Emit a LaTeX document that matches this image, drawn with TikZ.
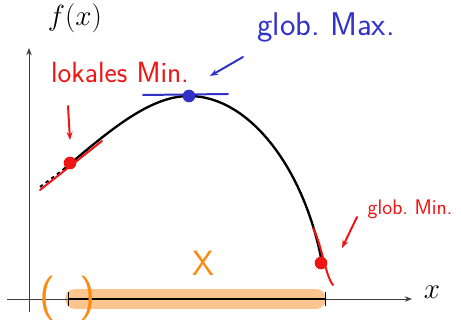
\documentclass[tikz,border=0pt]{standalone}
\usepackage{tikz}
\usetikzlibrary{arrows.meta,positioning}

\definecolor{penred}{RGB}{240,20,20}
\definecolor{penblue}{RGB}{50,50,200}
\definecolor{penorange}{RGB}{250,140,20}
\definecolor{bandorange}{RGB}{252,190,130}

\begin{document}
\begin{tikzpicture}[
    x=0.03cm, y=-0.03cm,
    axis/.style={draw=black!75, line width=0.7pt, -{Stealth[length=2.2mm]}},
    curve/.style={draw, line width=2pt, line cap=round},
    dot/.style={circle, fill=#1, inner sep=0pt, minimum size=3.8mm},
    hand/.style={font=\sffamily\fontsize{28}{30}\selectfont, text=#1},
    pen/.style={draw=#1, line width=1.7pt, line cap=round},
    penarrow/.style={draw=#1, line width=1.7pt, -{Stealth[length=2.4mm]}, line cap=round},
]
    \useasboundingbox (0,0) rectangle (461,320);

    % feasible set X
    \draw[bandorange, line width=6mm, line cap=round, opacity=0.9] (75,299) -- (316,299);

    % axes
    \coordinate (o) at (29,299);
    \coordinate (xend) at (412,299);
    \coordinate (yend) at (29,48);
    \draw[axis] (7,299) -- (xend);
    \draw[axis] (29,312) -- (yend);
    \node[font=\fontsize{24}{26}\selectfont] (xlab) at (432,292) {$x$};
    \node[font=\fontsize{24}{26}\selectfont] (ylab) at (75,18) {$f(x)$};

    % interval
    \coordinate (a) at (68,299);
    \coordinate (b) at (325,299);
    \draw[line width=2pt] (a) -- (b);
    \draw[line width=0.7pt] (68,292) -- (68,306) (325,292) -- (325,306);
    \node[hand=penorange, font=\sffamily\fontsize{38}{40}\selectfont] (lparen) at (48,298) {(};
    \node[hand=penorange, font=\sffamily\fontsize{38}{40}\selectfont] (rparen) at (88,298) {)};
    \node[hand=penorange, font=\sffamily\fontsize{30}{32}\selectfont] (setX) at (203,263) {X};

    % the function
    \draw[line width=1.5pt, dashed] (40,187) -- (64,169);
    \draw[curve] (64,169) .. controls (110,130) and (150,96) .. (189,96)
        .. controls (250,96) and (305,170) .. (322,263);

    % points
    \node[dot=penred] (lmin) at (70,163) {};
    \node[dot=penblue] (gmax) at (189,96) {};
    \node[dot=penred] (gmin) at (321,263) {};

    % tangents
    \draw[pen=penred] (40,190) -- (102,141);
    \draw[pen=penblue] (143,95) -- (228,94);
    \draw[pen=penred] (313,228) .. controls (322,245) and (325,275) .. (333,285);

    % labels
    \node[hand=penred, font=\sffamily\fontsize{25}{27}\selectfont] (lminlab) at (120,72) {lokales Min.};
    \node[hand=penblue] (gmaxlab) at (326,27) {glob.\ Max.};
    \node[hand=penred, font=\sffamily\fontsize{18}{20}\selectfont] (gminlab) at (410,209) {glob.\ Min.};

    \draw[penarrow=penred] (68,106) -- (70,140);
    \draw[penarrow=penblue] (243,57) -- (210,76);
    \draw[penarrow=penred] (357,217) -- (342,248);
\end{tikzpicture}
\end{document}
